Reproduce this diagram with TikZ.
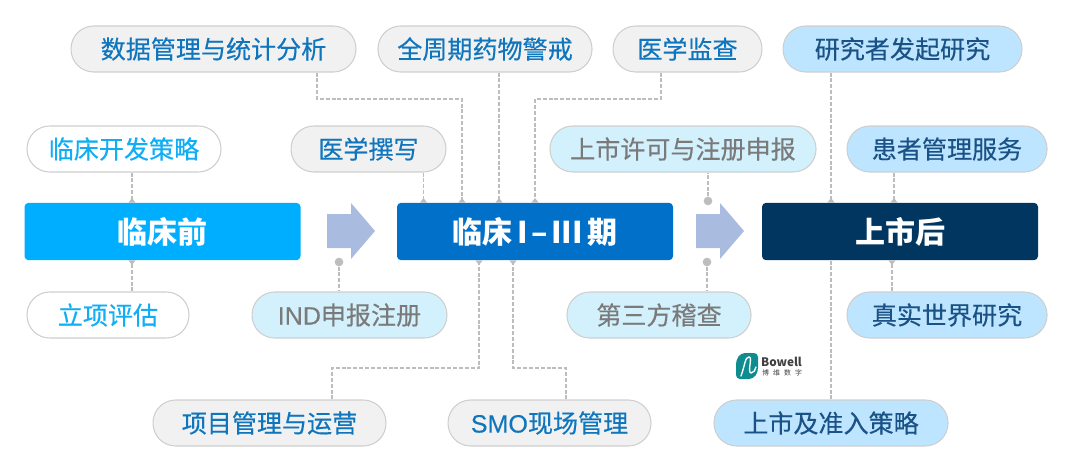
\documentclass[tikz,border=0pt]{standalone}
\usepackage{fontspec}
\setmainfont{Noto Sans CJK SC}
\newfontfamily\medf[FakeBold=0.35]{Noto Sans CJK SC}
\newfontfamily\latf[FakeBold=0.2]{Liberation Sans}
\usetikzlibrary{arrows.meta}
\definecolor{txtblue}{HTML}{0F75BD}
\definecolor{txtsky}{HTML}{10AEF5}
\definecolor{txtgray}{HTML}{7A7A7A}
\definecolor{txtnavy}{HTML}{1B5286}
\definecolor{pillgray}{HTML}{F1F1F1}
\definecolor{pillcyan}{HTML}{D2F1FC}
\definecolor{pillblue}{HTML}{BDE5FF}
\definecolor{pillline}{HTML}{CFCFCF}
\definecolor{connc}{HTML}{BDBDBD}
\definecolor{arrowc}{HTML}{A9BCE0}
\definecolor{mainA}{HTML}{00AEFF}
\definecolor{mainB}{HTML}{0070C8}
\definecolor{mainC}{HTML}{003660}
\definecolor{logoc}{HTML}{0F8C90}
\tikzset{
  x=0.75pt,y=-0.75pt,
  pill/.style={draw=pillline,line width=0.8pt,rounded corners=17pt,minimum height=34.5pt,inner sep=0pt,font=\fontsize{18.8pt}{22pt}\selectfont\medf,anchor=center},
  pgray/.style={pill,fill=pillgray,text=txtblue},
  pwhite/.style={pill,fill=white,text=txtsky},
  pcyan/.style={pill,fill=pillcyan,text=txtgray},
  pblue/.style={pill,fill=pillblue,text=txtnavy},
  mainbox/.style={rounded corners=3pt,minimum width=207pt,minimum height=43pt,inner sep=0pt,text=white,font=\fontsize{22.5pt}{26pt}\selectfont\bfseries},
  conn/.style={draw=connc,line width=1pt,dash pattern=on 3pt off 1.4pt},
  tipped/.style={conn,-{Triangle[reversed,length=3.5pt,width=5pt,fill=connc]}},
  dotn/.style={circle,fill=connc,minimum size=6.5pt,inner sep=0pt},
  bigarrow/.style={fill=arrowc,draw=none},
}
\begin{document}
\begin{tikzpicture}
\useasboundingbox (0,0) rectangle (1080,468);
% main boxes
\node[mainbox,fill=mainA] (pre) at (162.5,231.5) {临床前};
\node[mainbox,fill=mainB] (clin) at (535,231.5) {临床\hspace{4pt}I\hspace{2.5pt}–\hspace{2.5pt}III\hspace{4pt}期};
\node[mainbox,fill=mainC] (post) at (900,231.5) {上市后};
% pills
\node[pgray,minimum width=213.7pt] (data) at (213.5,49) {数据管理与统计分析};
\node[pgray,minimum width=160.5pt] (pv) at (485,49) {全周期药物警戒};
\node[pgray,minimum width=111.7pt] (mm) at (687.5,49) {医学监查};
\node[pblue,minimum width=179.2pt] (iit) at (902.5,49) {研究者发起研究};
\node[pwhite,minimum width=145.5pt] (cdev) at (124,149) {临床开发策略};
\node[pgray,minimum width=116.2pt] (mw) at (368.5,149) {医学撰写};
\node[pcyan,minimum width=199.5pt] (nda) at (683,149) {上市许可与注册申报};
\node[pblue,minimum width=150pt] (pat) at (947,149) {患者管理服务};
\node[pwhite,minimum width=121.5pt] (proj) at (108,315) {立项评估};
\node[pcyan,minimum width=146.2pt] (ind) at (349.5,315) {{\latf IND}申报注册};
\node[pcyan,minimum width=138pt] (audit) at (659,315) {第三方稽查};
\node[pblue,minimum width=150pt] (rwe) at (947,315) {真实世界研究};
\node[pgray,minimum width=174.7pt] (pmo) at (269.5,423) {项目管理与运营};
\node[pgray,minimum width=152.2pt] (smo) at (549.5,423) {{\latf SMO}现场管理};
\node[pblue,minimum width=175.5pt] (mkt) at (831,423) {上市及准入策略};
% big arrows
\draw[bigarrow] (327,214) -- (351,214) -- (351,203) -- (375,231) -- (351,259) -- (351,248) -- (327,248) -- cycle;
\draw[bigarrow] (696,214) -- (720,214) -- (720,203) -- (744,231) -- (720,259) -- (720,248) -- (696,248) -- cycle;
% connector bends
\coordinate (j1a) at (317,99); \coordinate (j1b) at (462,99);
\coordinate (j3a) at (661,99); \coordinate (j3b) at (535,99);
\coordinate (j4a) at (332,368); \coordinate (j4b) at (479,368);
\coordinate (j5a) at (513,368); \coordinate (j5b) at (566,368);
\draw[tipped] (j1a |- data.south) -- (j1a) -- (j1b) -- (j1b |- clin.north);
\draw[tipped] ([xshift=10.5pt]pv.south) -- ([xshift=10.5pt]pv.south |- clin.north);
\draw[tipped] (j3a |- mm.south) -- (j3a) -- (j3b) -- (j3b |- clin.north);
\draw[tipped] ([xshift=41.25pt]mw.south) -- ([xshift=41.25pt]mw.south |- clin.north);
\draw[tipped] ([xshift=6pt]cdev.south) -- ([xshift=6pt]cdev.south |- pre.north);
\draw[tipped] ([xshift=18pt]proj.north) -- ([xshift=18pt]proj.north |- pre.south);
\draw[tipped] ([xshift=-53.6pt]iit.south) -- ([xshift=-53.6pt]iit.south |- post.north);
\draw[tipped] ([xshift=-39.75pt]pat.south) -- ([xshift=-39.75pt]pat.south |- post.north);
\draw[tipped] ([xshift=-41.25pt]rwe.north) -- ([xshift=-41.25pt]rwe.north |- post.south);
\draw[conn] (mkt.north) -- (mkt.north |- post.south);
\draw[tipped] (j4a |- pmo.north) -- (j4a) -- (j4b) -- (j4b |- clin.south);
\draw[tipped] (j5b |- smo.north) -- (j5b) -- (j5a) -- (j5a |- clin.south);
% dots
\node[dotn] (d1) at (339,262) {};
\node[dotn] (d2) at (708,201) {};
\node[dotn] (d3) at (707,262) {};
\draw[conn] (d1) -- (d1 |- ind.north);
\draw[conn] (d2) -- (d2 |- nda.south);
\draw[conn] (d3) -- (d3 |- audit.north);
% logo
\fill[logoc,rounded corners=3pt] (741,353) -- (758,353) -- (758,372) -- (753,379) -- (736,379) -- (736,360) -- cycle;
\draw[white,line width=1pt,line cap=round] (741,376) .. controls (745,365) and (745,357) .. (749,357) .. controls (753,357) and (747,372) .. (751,373) .. controls (754,373) and (755,370) .. (756,367);
\node[inner sep=0pt,text=black!75,font=\fontsize{8.8pt}{10pt}\selectfont\bfseries] (bw) at (781.5,362) {Bowell};
\node[inner sep=0pt,text=black!75,font=\fontsize{5.2pt}{6pt}\selectfont,text width=30pt,align=justify] (bwc) at (782,373) {\makebox[30pt][s]{博\hfill 维\hfill 数\hfill 字}};
\end{tikzpicture}
\end{document}
